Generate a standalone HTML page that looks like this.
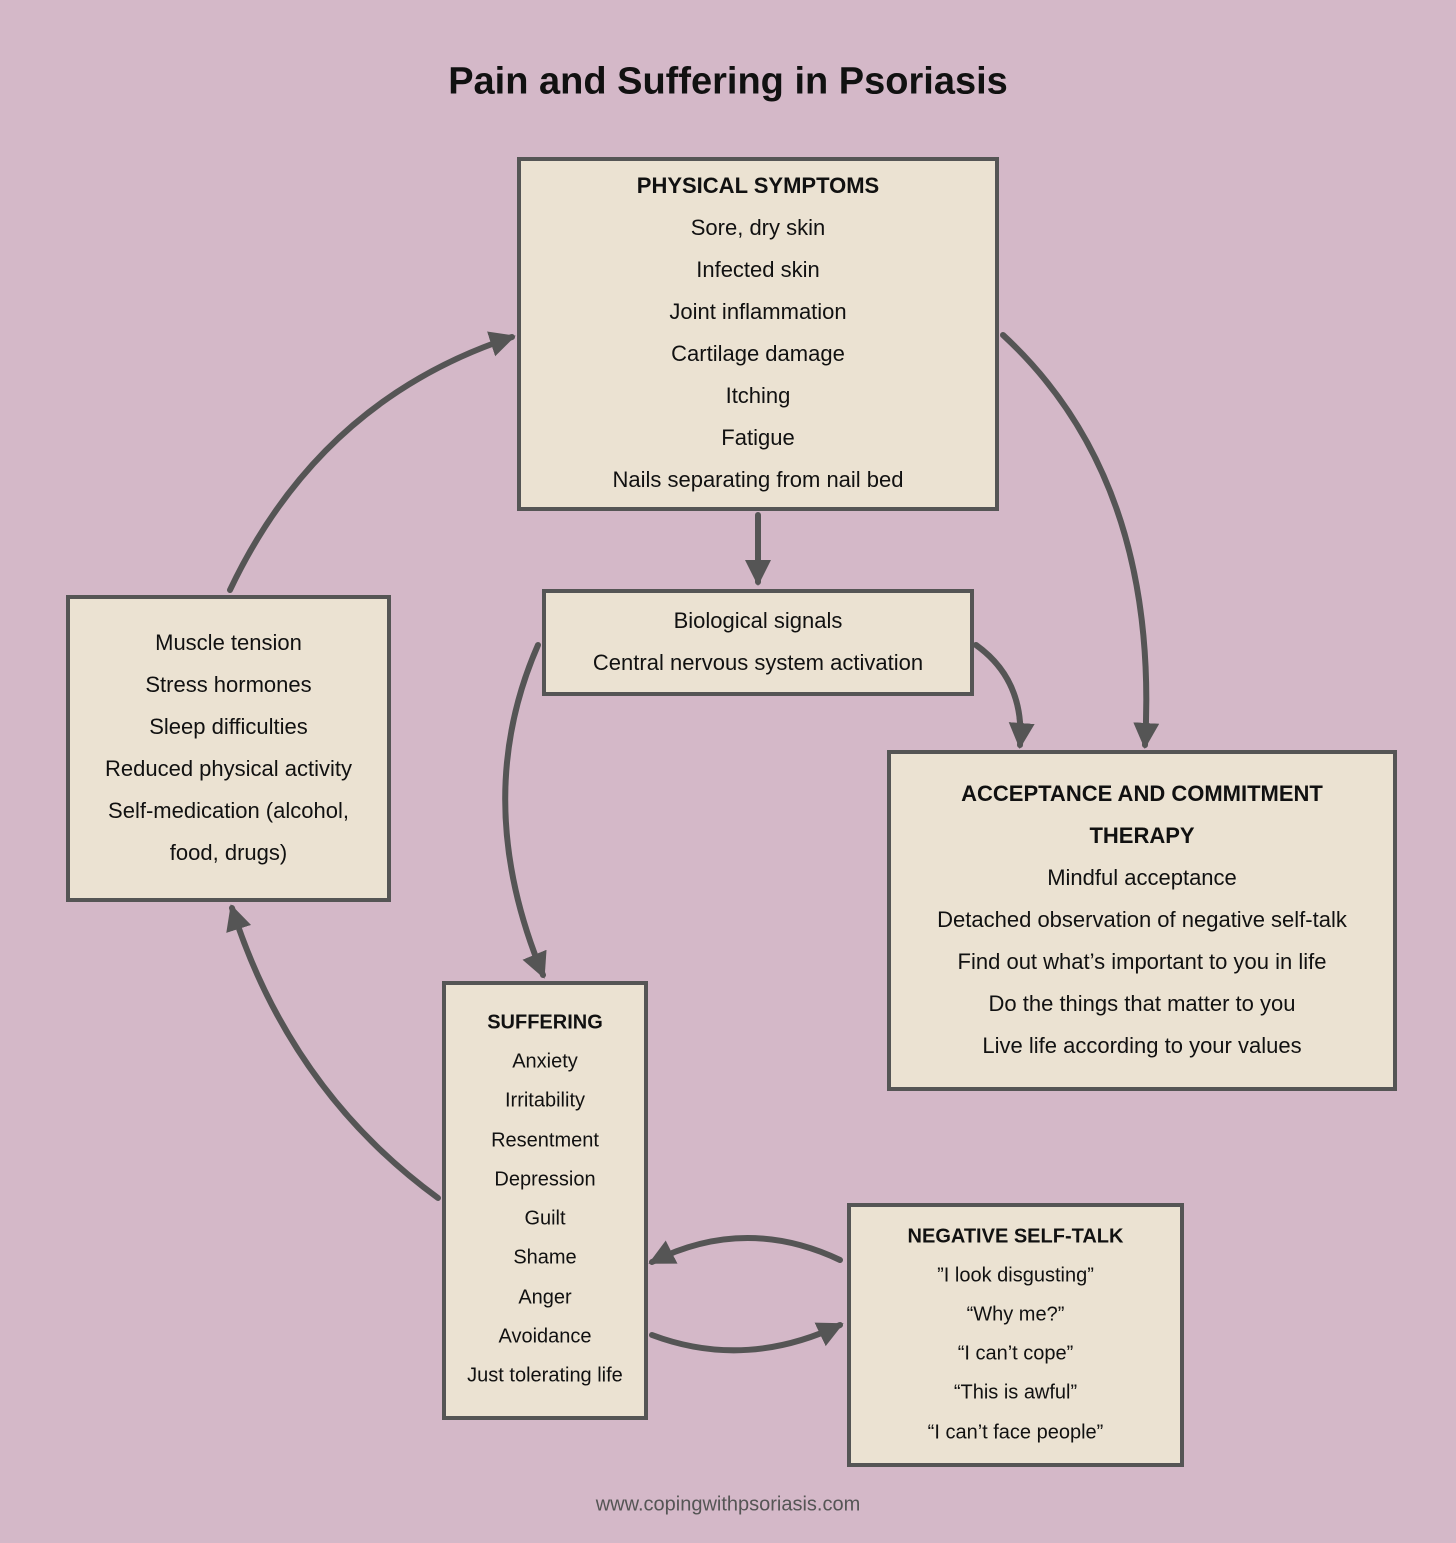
<!DOCTYPE html>
<html><head><meta charset="utf-8"><style>
html,body{margin:0;padding:0}
body{width:1456px;height:1543px;background:#d4b8c8;position:relative;overflow:hidden;font-family:"Liberation Sans",sans-serif;color:#111}
.box{position:absolute;box-sizing:border-box;background:#ebe2d2;border:4px solid #555}
.t{position:absolute;left:0;right:0;text-align:center;white-space:nowrap;transform:translateY(-50%)}
.h{font-weight:bold}
</style></head><body>
<div class="t h" style="top:82px;font-size:38px">Pain and Suffering in Psoriasis</div>

<svg width="1456" height="1543" style="position:absolute;left:0;top:0">
<defs><marker id="a" markerUnits="userSpaceOnUse" markerWidth="30" markerHeight="30" refX="22" refY="15" orient="auto"><path d="M0,2 L26,15 L0,28 z" fill="#555"/></marker></defs>
<g fill="none" stroke="#555" stroke-width="6" stroke-linecap="round" marker-end="url(#a)">
<path d="M230,590 Q320,400 512,337"/>
<path d="M1003,335 Q1160,480 1145,745"/>
<path d="M758,515 L758,582"/>
<path d="M976,645 Q1025,680 1020,745"/>
<path d="M538,645 Q470,800 543,975"/>
<path d="M438,1198 Q290,1090 232,908"/>
<path d="M840,1260 Q745,1215 652,1262"/>
<path d="M652,1335 Q745,1370 840,1325"/>
</g></svg>

<div class="box" style="left:517px;top:157px;width:482px;height:354px"></div>
<div style="position:absolute;left:517px;width:482px;top:0;font-size:22px">
<div class="t h" style="top:186px">PHYSICAL SYMPTOMS</div>
<div class="t" style="top:228px">Sore, dry skin</div>
<div class="t" style="top:270px">Infected skin</div>
<div class="t" style="top:312px">Joint inflammation</div>
<div class="t" style="top:354px">Cartilage damage</div>
<div class="t" style="top:396px">Itching</div>
<div class="t" style="top:438px">Fatigue</div>
<div class="t" style="top:480px">Nails separating from nail bed</div>
</div>

<div class="box" style="left:542px;top:589px;width:432px;height:107px"></div>
<div style="position:absolute;left:542px;width:432px;top:0;font-size:22px">
<div class="t" style="top:621px">Biological signals</div>
<div class="t" style="top:663px">Central nervous system activation</div>
</div>

<div class="box" style="left:66px;top:595px;width:325px;height:307px"></div>
<div style="position:absolute;left:66px;width:325px;top:0;font-size:22px">
<div class="t" style="top:643px">Muscle tension</div>
<div class="t" style="top:685px">Stress hormones</div>
<div class="t" style="top:727px">Sleep difficulties</div>
<div class="t" style="top:769px">Reduced physical activity</div>
<div class="t" style="top:811px">Self-medication (alcohol,</div>
<div class="t" style="top:853px">food, drugs)</div>
</div>

<div class="box" style="left:887px;top:750px;width:510px;height:341px"></div>
<div style="position:absolute;left:887px;width:510px;top:0;font-size:22px">
<div class="t h" style="top:794px">ACCEPTANCE AND COMMITMENT</div>
<div class="t h" style="top:836px">THERAPY</div>
<div class="t" style="top:878px">Mindful acceptance</div>
<div class="t" style="top:920px">Detached observation of negative self-talk</div>
<div class="t" style="top:962px">Find out what’s important to you in life</div>
<div class="t" style="top:1004px">Do the things that matter to you</div>
<div class="t" style="top:1046px">Live life according to your values</div>
</div>

<div class="box" style="left:442px;top:981px;width:206px;height:439px"></div>
<div style="position:absolute;left:442px;width:206px;top:0;font-size:20px">
<div class="t h" style="top:1023px">SUFFERING</div>
<div class="t" style="top:1062px">Anxiety</div>
<div class="t" style="top:1101px">Irritability</div>
<div class="t" style="top:1141px">Resentment</div>
<div class="t" style="top:1180px">Depression</div>
<div class="t" style="top:1219px">Guilt</div>
<div class="t" style="top:1258px">Shame</div>
<div class="t" style="top:1298px">Anger</div>
<div class="t" style="top:1337px">Avoidance</div>
<div class="t" style="top:1376px">Just tolerating life</div>
</div>

<div class="box" style="left:847px;top:1203px;width:337px;height:264px"></div>
<div style="position:absolute;left:847px;width:337px;top:0;font-size:20px">
<div class="t h" style="top:1237px">NEGATIVE SELF-TALK</div>
<div class="t" style="top:1276px">”I look disgusting”</div>
<div class="t" style="top:1315px">“Why me?”</div>
<div class="t" style="top:1354px">“I can’t cope”</div>
<div class="t" style="top:1393px">“This is awful”</div>
<div class="t" style="top:1433px">“I can’t face people”</div>
</div>

<div class="t" style="top:1505px;font-size:20px;color:#555">www.copingwithpsoriasis.com</div>
</body></html>
